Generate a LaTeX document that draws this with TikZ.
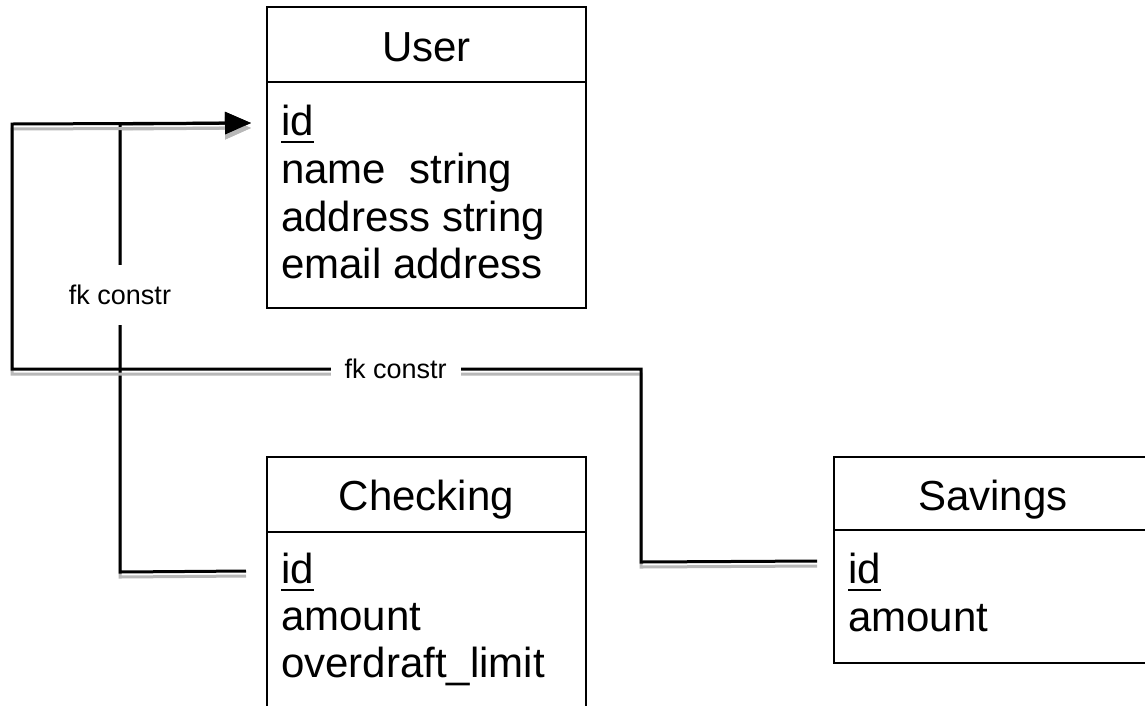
\documentclass[tikz,border=0pt]{standalone}
\usepackage{fontspec}
\setmainfont{Liberation Sans}
\usetikzlibrary{arrows.meta,calc}
\begin{document}
\begin{tikzpicture}[x=1pt,y=-1pt,
  box/.style={draw,line width=2pt,inner sep=0pt},
  sepline/.style={line width=2pt},
  hdr/.style={font=\fontsize{42}{47}\selectfont,anchor=base,inner sep=0pt},
  row/.style={font=\fontsize{42}{47}\selectfont,anchor=base west,inner sep=0pt},
  ul/.style={line width=2pt},
  conn/.style={line width=3pt,line join=miter,
    preaction={draw=black!28,line width=3pt,transform canvas={yshift=-5pt}}},
  tip/.style={-{Triangle[length=26pt,width=22pt]}},
  lbl/.style={fill=white,font=\fontsize{27}{30}\selectfont,inner xsep=14pt,inner ysep=20pt}]
\clip (0,0) rectangle (1145,705);
\fill[white] (0,0) rectangle (1145,705);

% User table
\node[box,minimum width=319pt,minimum height=301pt] (user) at (426.5,157.5) {};
\draw[sepline] (user.west |- 0,82) -- (user.east |- 0,82);
\node[hdr] (userh) at (426.5,61) {User};
\node[row] (uid) at (281,135) {id};
\draw[ul] ($(uid.base west)+(0,7)$) -- ($(uid.base east)+(0,7)$);
\node[row] (uname) at (281,183) {name\ \ string};
\node[row] (uaddr) at (281,231) {address string};
\node[row] (umail) at (281,278) {email address};

% Checking table
\node[box,minimum width=319pt,minimum height=283pt] (chk) at (426.5,598.5) {};
\draw[sepline] (chk.west |- 0,532) -- (chk.east |- 0,532);
\node[hdr] (chkh) at (426.5,510) {Checking};
\node[row] (cid) at (281,583) {id};
\draw[ul] ($(cid.base west)+(0,7)$) -- ($(cid.base east)+(0,7)$);
\node[row] (camt) at (281,630) {amount};
\node[row] (cod) at (281,677) {overdraft\_limit};

% Savings table
\node[box,minimum width=318pt,minimum height=206pt] (sav) at (993,560) {};
\draw[sepline] (sav.west |- 0,530) -- (sav.east |- 0,530);
\node[hdr] (savh) at (993,510) {Savings};
\node[row] (sid) at (848,583) {id};
\draw[ul] ($(sid.base west)+(0,7)$) -- ($(sid.base east)+(0,7)$);
\node[row] (samt) at (848,631) {amount};

% connector end points
\coordinate (uin) at ($(user.north west)+(-15,117)$);
\coordinate (cout) at ($(chk.north west)+(-20,115)$);
\coordinate (sout) at ($(sav.north west)+(-16,105)$);

% Checking -> User
\draw[conn,tip] (cout) -- (120,572) -- node[lbl,pos=0.618] (l1) {fk constr} (120,124) -- (uin);
% Savings -> User
\draw[conn,tip] (sout) -- (641,562) -- (641,369) -- node[lbl,pos=0.39] (l2) {fk constr} (12,369) -- (12,124) -- (uin);
\end{tikzpicture}
\end{document}
